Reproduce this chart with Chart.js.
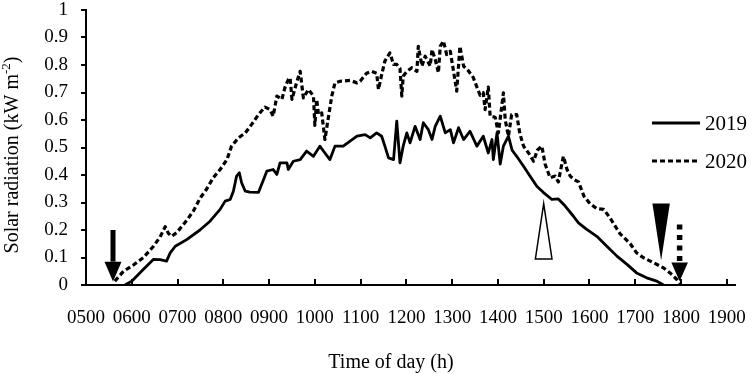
<!DOCTYPE html>
<html><head><meta charset="utf-8">
<script src="https://cdn.jsdelivr.net/npm/chart.js@4.4.1/dist/chart.umd.min.js"></script>
<style>html,body{margin:0;padding:0;background:#fff;} #wrap{width:752px;height:374px;}</style>
</head><body><div id="wrap"><canvas id="c" width="752" height="374"></canvas></div>
<script>
const seriesNames = ['2019', '2020'];
const time2019 = [5.85,6.0,6.25,6.47,6.62,6.76,6.84,6.95,7.2,7.49,7.71,7.93,8.04,8.15,8.22,8.29,8.35,8.4,8.48,8.58,8.77,8.88,8.95,9.09,9.17,9.24,9.39,9.42,9.53,9.68,9.82,9.97,10.11,10.22,10.33,10.44,10.62,10.77,10.92,11.1,11.21,11.35,11.46,11.53,11.61,11.72,11.79,11.86,11.93,12.01,12.08,12.19,12.3,12.37,12.48,12.56,12.63,12.74,12.85,12.96,13.03,13.14,13.25,13.39,13.54,13.68,13.79,13.87,13.9,13.98,14.05,14.12,14.23,14.31,14.41,14.56,14.7,14.85,14.99,15.18,15.32,15.47,15.65,15.76,15.94,16.16,16.38,16.6,16.82,17.03,17.25,17.47,17.62];
const rad2019 = [0,0.014,0.056,0.093,0.092,0.087,0.117,0.141,0.165,0.2,0.232,0.275,0.305,0.311,0.341,0.396,0.408,0.372,0.341,0.338,0.337,0.384,0.414,0.42,0.402,0.444,0.444,0.42,0.45,0.456,0.487,0.468,0.505,0.48,0.456,0.505,0.505,0.523,0.541,0.547,0.535,0.553,0.541,0.505,0.462,0.456,0.596,0.444,0.505,0.553,0.517,0.577,0.529,0.59,0.565,0.529,0.577,0.614,0.553,0.565,0.517,0.572,0.529,0.559,0.505,0.541,0.48,0.529,0.456,0.553,0.44,0.505,0.541,0.49,0.468,0.432,0.396,0.359,0.337,0.311,0.313,0.287,0.25,0.226,0.202,0.177,0.141,0.105,0.075,0.044,0.026,0.014,0];
const time2020 = [5.63,5.82,6.03,6.25,6.47,6.62,6.73,6.8,6.87,6.98,7.2,7.35,7.49,7.64,7.78,7.93,8.08,8.18,8.33,8.48,8.62,8.77,8.91,9.02,9.09,9.17,9.28,9.35,9.42,9.46,9.5,9.6,9.68,9.75,9.86,9.97,10.0,10.04,10.08,10.15,10.22,10.3,10.37,10.44,10.55,10.77,10.92,10.99,11.13,11.24,11.35,11.39,11.46,11.53,11.64,11.72,11.79,11.86,11.9,11.93,12.01,12.12,12.23,12.26,12.34,12.41,12.52,12.56,12.63,12.7,12.74,12.81,12.88,12.96,13.03,13.1,13.17,13.25,13.35,13.46,13.54,13.61,13.68,13.72,13.79,13.83,13.94,14.01,14.12,14.16,14.23,14.3,14.41,14.48,14.56,14.67,14.78,14.86,14.96,15.03,15.14,15.25,15.32,15.43,15.51,15.58,15.66,15.76,15.88,16.01,16.16,16.31,16.45,16.52,16.67,16.74,16.89,17.03,17.18,17.4,17.62,17.76,17.91,17.98];
const rad2020 = [0.014,0.05,0.072,0.099,0.14,0.175,0.212,0.188,0.177,0.19,0.235,0.27,0.315,0.35,0.39,0.42,0.456,0.505,0.535,0.553,0.584,0.62,0.647,0.638,0.614,0.687,0.675,0.72,0.747,0.753,0.675,0.735,0.777,0.68,0.711,0.687,0.58,0.675,0.62,0.626,0.529,0.614,0.687,0.735,0.741,0.744,0.735,0.741,0.77,0.777,0.77,0.711,0.765,0.814,0.844,0.802,0.802,0.787,0.687,0.759,0.777,0.79,0.777,0.868,0.796,0.832,0.796,0.856,0.82,0.772,0.868,0.887,0.838,0.85,0.777,0.705,0.868,0.796,0.78,0.755,0.72,0.69,0.699,0.638,0.72,0.614,0.61,0.553,0.699,0.6,0.541,0.62,0.62,0.55,0.505,0.48,0.45,0.49,0.505,0.44,0.39,0.396,0.375,0.468,0.42,0.396,0.384,0.375,0.323,0.296,0.278,0.275,0.244,0.225,0.186,0.175,0.15,0.117,0.099,0.081,0.062,0.044,0.02,0.005];
const hourTicks = [5,6,7,8,9,10,11,12,13,14,15,16,17,18,19];
const hourLabels = ['0500','0600','0700','0800','0900','1000','1100','1200','1300','1400','1500','1600','1700','1800','1900'];
const radTicks = [0,0.1,0.2,0.3,0.4,0.5,0.6,0.7,0.8,0.9,1];
const radLabels = ['0','0.1','0.2','0.3','0.4','0.5','0.6','0.7','0.8','0.9','1'];
const markerTimes = [5.59, 15.0, 17.566, 17.97];
const xTitle = 'Time of day (h)';
const yTitleParts = ['Solar radiation (kW m', '-2', ')'];

const FONT = "'Liberation Serif', 'Times New Roman', serif";
const toPts = (t, v) => t.map((x, i) => ({x: x, y: v[i]}));

const decor = {
  id: 'decor',
  afterDraw(chart) {
    const {ctx, chartArea: {left, right, top, bottom}, scales: {x, y}} = chart;
    const xp = h => x.getPixelForValue(h);
    const yp = v => y.getPixelForValue(v);
    ctx.save();
    ctx.strokeStyle = '#000'; ctx.fillStyle = '#000'; ctx.lineWidth = 2;
    hourTicks.forEach(h => { const px = Math.round(xp(h)); ctx.beginPath(); ctx.moveTo(px, bottom); ctx.lineTo(px, bottom - 6); ctx.stroke(); });
    radTicks.forEach(v => { const py = Math.round(yp(v)); ctx.beginPath(); ctx.moveTo(left - 5, py); ctx.lineTo(left, py); ctx.stroke(); });

    // y title with superscript
    ctx.save();
    ctx.translate(13, 155); ctx.rotate(-Math.PI / 2);
    ctx.textBaseline = 'middle'; ctx.textAlign = 'left';
    const f1 = '20px ' + FONT, f2 = '13px ' + FONT;
    ctx.font = f1; const w1 = ctx.measureText(yTitleParts[0]).width; const w3 = ctx.measureText(yTitleParts[2]).width;
    ctx.font = f2; const w2 = ctx.measureText(yTitleParts[1]).width;
    const sx = -(w1 + w2 + w3) / 2;
    ctx.font = f1; ctx.fillText(yTitleParts[0], sx, 0);
    ctx.font = f2; ctx.fillText(yTitleParts[1], sx + w1, -6);
    ctx.font = f1; ctx.fillText(yTitleParts[2], sx + w1 + w2, 0);
    ctx.restore();

    // x title
    ctx.font = '20px ' + FONT; ctx.textAlign = 'center'; ctx.textBaseline = 'alphabetic';
    ctx.fillText(xTitle, 391, 368);

    // legend
    const legY = [123, 161];
    chart.data.datasets.forEach((ds, i) => {
      ctx.save();
      ctx.lineWidth = 3; ctx.setLineDash(ds.borderDash || []);
      ctx.beginPath(); ctx.moveTo(652, legY[i]); ctx.lineTo(700, legY[i]); ctx.stroke();
      ctx.restore();
      ctx.font = '21px ' + FONT; ctx.textAlign = 'left'; ctx.textBaseline = 'middle';
      ctx.fillText(ds.label, 705, legY[i] + 1);
    });

    // markers
    let cx = xp(markerTimes[0]);
    ctx.fillRect(cx - 2.5, yp(0.2), 5, yp(0.085) - yp(0.2));
    ctx.beginPath(); ctx.moveTo(cx - 8.5, yp(0.085)); ctx.lineTo(cx + 8.5, yp(0.085)); ctx.lineTo(cx, yp(0.013)); ctx.closePath(); ctx.fill();

    cx = xp(markerTimes[1]);
    ctx.beginPath(); ctx.moveTo(cx, yp(0.296)); ctx.lineTo(cx + 8.3, yp(0.095)); ctx.lineTo(cx - 8.3, yp(0.095)); ctx.closePath();
    ctx.fillStyle = '#fff'; ctx.fill(); ctx.lineWidth = 1.5; ctx.stroke(); ctx.fillStyle = '#000';

    cx = xp(markerTimes[2]);
    ctx.beginPath(); ctx.moveTo(cx - 8.7, yp(0.296)); ctx.lineTo(cx + 8.7, yp(0.296)); ctx.lineTo(cx, yp(0.089)); ctx.closePath(); ctx.fill();

    cx = xp(markerTimes[3]);
    ctx.save(); ctx.setLineDash([5, 5.5]); ctx.lineWidth = 5.5;
    ctx.beginPath(); ctx.moveTo(cx, yp(0.22)); ctx.lineTo(cx, yp(0.085)); ctx.stroke(); ctx.restore();
    ctx.beginPath(); ctx.moveTo(cx - 8.3, yp(0.082)); ctx.lineTo(cx + 8.3, yp(0.082)); ctx.lineTo(cx, yp(0.014)); ctx.closePath(); ctx.fill();
    ctx.restore();
  }
};

new Chart(document.getElementById('c'), {
  type: 'line',
  data: {
    datasets: [
      {label: seriesNames[0], data: toPts(time2019, rad2019), borderColor: '#000', borderWidth: 2.8, borderJoinStyle: 'round', pointRadius: 0, tension: 0, fill: false},
      {label: seriesNames[1], data: toPts(time2020, rad2020), borderColor: '#000', borderWidth: 3.2, borderJoinStyle: 'round', borderDash: [5, 3], pointRadius: 0, tension: 0, fill: false}
    ]
  },
  options: {
    responsive: false, animation: false, devicePixelRatio: 1,
    layout: {padding: {left: 0, right: 17, top: 10, bottom: 0}},
    plugins: {legend: {display: false}, tooltip: {enabled: false}},
    scales: {
      x: {
        type: 'linear', min: 5, max: 19.18,
        afterBuildTicks: s => { s.ticks = hourTicks.map(v => ({value: v})); },
        afterFit: s => { s.height = 89; },
        grid: {display: false, drawTicks: true, tickLength: 22},
        border: {display: true, color: '#000', width: 2},
        ticks: {autoSkip: false, maxRotation: 0, padding: 0, color: '#000', font: {family: FONT, size: 19}, callback: (v, i) => hourLabels[i]}
      },
      y: {
        type: 'linear', min: 0, max: 1,
        afterBuildTicks: s => { s.ticks = radTicks.map(v => ({value: v})); },
        afterFit: s => { s.width = 86; },
        grid: {display: false, drawTicks: true, tickLength: 18},
        border: {display: true, color: '#000', width: 2},
        ticks: {padding: 0, color: '#000', font: {family: FONT, size: 19, lineHeight: 1}, callback: (v, i) => radLabels[i]}
      }
    }
  },
  plugins: [decor]
});
</script>
</body></html>
